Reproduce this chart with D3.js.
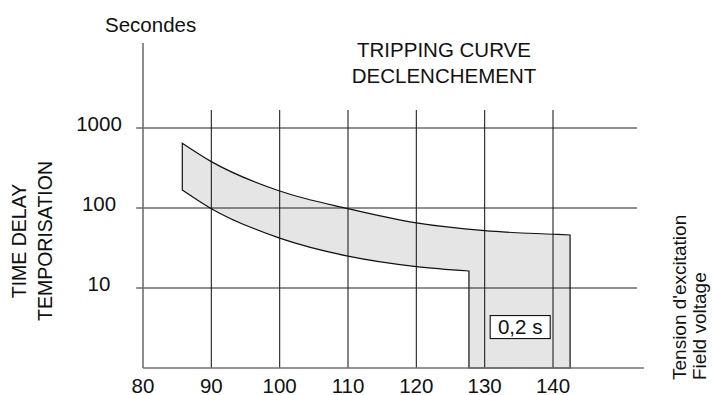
<!DOCTYPE html>
<html>
<head>
<meta charset="utf-8">
<script src="https://cdn.jsdelivr.net/npm/d3@7"></script>
<style>
  body { margin: 0; background: #fff; }
  text { font-family: "Liberation Sans", Arial, sans-serif; fill: #111; }
</style>
</head>
<body>
<div id="chart"></div>
<script>
// tripping curve band (field voltage %, seconds)
var upperV = [85.75, 90, 100, 110, 120, 130, 140, 142.5];
var upperT = [645, 380, 163, 98, 65, 52, 47, 46];
var lowerV = [85.75, 90, 100, 110, 120, 127.7];
var lowerT = [168, 98, 42, 25, 18.5, 16.3];

var xTicks = [80, 90, 100, 110, 120, 130, 140];
var yTicks = [10, 100, 1000];
var yTickLabels = ["10", "100", "1000"];

var boxLabel = "0,2 s";
var boxV = 135.2, boxT = 3.25;

var W = 712, H = 395;
var fs = 20.5;

var x = d3.scaleLinear().domain([80, 140]).range([143, 553]);
var y = d3.scaleLog().domain([1, 1000]).range([368, 128]);

var svg = d3.select("#chart").append("svg")
    .attr("width", W)
    .attr("height", H);

// band polygon
var upper = upperV.map(function (v, i) { return [x(v), y(upperT[i])]; });
var lower = lowerV.map(function (v, i) { return [x(v), y(lowerT[i])]; });

var line = d3.line().curve(d3.curveMonotoneX);
var upPath = line(upper);
var lowRevPath = line(lower.slice().reverse());
var lastU = upper[upper.length - 1];
var lastL = lower[lower.length - 1];
// outline: upper curve, drop to axis, back along axis, up, lower curve back
var d = upPath +
    "L" + lastU[0] + "," + y(1) +
    "L" + lastL[0] + "," + y(1) +
    "L" + lastL[0] + "," + lastL[1] +
    lowRevPath.replace(/^M[^CL]*/, "") + "Z";

svg.append("path")
    .attr("d", d)
    .attr("fill", "#e5e5e5")
    .attr("stroke", "none");

// grid
var g = svg.append("g");
g.selectAll(".hg").data(yTicks).enter().append("line")
    .attr("x1", x(79)).attr("x2", x(152.3))
    .attr("y1", function (t) { return y(t); })
    .attr("y2", function (t) { return y(t); })
    .attr("stroke", "#222").attr("stroke-width", 1.1);
g.selectAll(".vg").data(xTicks.slice(1)).enter().append("line")
    .attr("x1", function (v) { return x(v); })
    .attr("x2", function (v) { return x(v); })
    .attr("y1", y(1680)).attr("y2", y(1))
    .attr("stroke", "#222").attr("stroke-width", 1.1);

// band outline on top of grid
svg.append("path")
    .attr("d", d)
    .attr("fill", "none")
    .attr("stroke", "#111")
    .attr("stroke-width", 1.2);

// axes
svg.append("line")
    .attr("x1", x(80)).attr("x2", x(80))
    .attr("y1", y(11550)).attr("y2", y(1))
    .attr("stroke", "#707070").attr("stroke-width", 1.6);
svg.append("line")
    .attr("x1", x(80)).attr("x2", x(153.3))
    .attr("y1", y(1)).attr("y2", y(1))
    .attr("stroke", "#707070").attr("stroke-width", 1.6);

// tick labels
svg.selectAll(".xl").data(xTicks).enter().append("text")
    .attr("x", function (v) { return x(v); })
    .attr("y", y(1) + 24.5)
    .attr("text-anchor", "middle")
    .style("font-size", fs + "px")
    .text(function (v) { return v; });
svg.selectAll(".yl").data(yTicks).enter().append("text")
    .attr("x", 99)
    .attr("y", function (t) { return y(t) + 3; })
    .attr("text-anchor", "middle")
    .style("font-size", fs + "px")
    .text(function (t, i) { return yTickLabels[i]; });

// titles
svg.append("text").attr("x", 105).attr("y", 32)
    .style("font-size", fs + "px").text("Secondes");
svg.append("text").attr("x", 444).attr("y", 57)
    .attr("text-anchor", "middle").style("font-size", fs + "px").text("TRIPPING CURVE");
svg.append("text").attr("x", 444).attr("y", 83)
    .attr("text-anchor", "middle").style("font-size", fs + "px").text("DECLENCHEMENT");

svg.append("text").attr("transform", "translate(26,241) rotate(-90)")
    .attr("text-anchor", "middle").style("font-size", "19.5px").text("TIME DELAY");
svg.append("text").attr("transform", "translate(51.5,241) rotate(-90)")
    .attr("text-anchor", "middle").style("font-size", "19.5px").text("TEMPORISATION");

svg.append("text").attr("transform", "translate(685.5,380) rotate(-90)")
    .attr("text-anchor", "start").style("font-size", "19px").text("Tension d'excitation");
svg.append("text").attr("transform", "translate(706,380) rotate(-90)")
    .attr("text-anchor", "start").style("font-size", "19px").text("Field voltage");

// 0,2 s box
var bx = x(boxV), by = y(boxT);
svg.append("rect")
    .attr("x", bx - 30).attr("y", by - 11.5)
    .attr("width", 60).attr("height", 23)
    .attr("fill", "#fff").attr("stroke", "#111").attr("stroke-width", 1.1);
svg.append("text").attr("x", bx).attr("y", by + 7)
    .attr("text-anchor", "middle").style("font-size", fs + "px").text(boxLabel);
</script>
</body>
</html>
